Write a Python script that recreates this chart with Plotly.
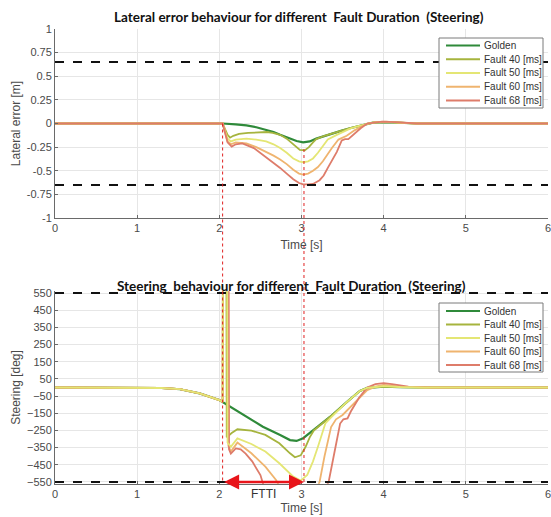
import plotly.graph_objects as go

# ---------------- data ----------------
# Lateral error [m]
t_golden_lat = [0, 2.04, 2.2, 2.33, 2.45, 2.57, 2.66, 2.74, 2.85, 2.94, 3.02, 3.1, 3.18, 3.28, 3.39, 3.49, 3.59, 3.68, 3.75, 3.87, 4.03, 4.2, 4.4, 6.0]
golden_lat = [0, 0, -0.01, -0.02, -0.04, -0.067, -0.09, -0.12, -0.155, -0.185, -0.2, -0.19, -0.16, -0.13, -0.1, -0.075, -0.05, -0.03, -0.015, 0.01, 0.015, 0.008, 0, 0]

t_f40_lat = [0, 2.04, 2.1, 2.13, 2.17, 2.24, 2.35, 2.49, 2.58, 2.65, 2.74, 2.82, 2.9, 2.98, 3.04, 3.09, 3.14, 3.18, 3.28, 3.39, 3.49, 3.59, 3.68, 3.75, 3.87, 4.03, 4.2, 4.4, 6.0]
f40_lat = [0, 0, -0.12, -0.15, -0.13, -0.11, -0.1, -0.09, -0.09, -0.1, -0.12, -0.16, -0.22, -0.28, -0.285, -0.25, -0.2, -0.165, -0.13, -0.1, -0.075, -0.05, -0.03, -0.015, 0.01, 0.015, 0.008, 0, 0]

t_f50_lat = [0, 2.04, 2.1, 2.14, 2.2, 2.33, 2.45, 2.57, 2.66, 2.74, 2.82, 2.9, 2.97, 3.02, 3.08, 3.14, 3.2, 3.24, 3.32, 3.43, 3.52, 3.59, 3.68, 3.75, 3.87, 4.03, 4.2, 4.4, 6.0]
f50_lat = [0, 0, -0.16, -0.19, -0.17, -0.16, -0.17, -0.19, -0.22, -0.26, -0.31, -0.37, -0.4, -0.41, -0.4, -0.37, -0.31, -0.26, -0.17, -0.12, -0.08, -0.055, -0.03, -0.015, 0.01, 0.018, 0.01, 0, 0]

t_f60_lat = [0, 2.04, 2.1, 2.14, 2.2, 2.33, 2.45, 2.57, 2.66, 2.74, 2.82, 2.9, 2.97, 3.02, 3.08, 3.14, 3.2, 3.26, 3.32, 3.37, 3.45, 3.55, 3.65, 3.72, 3.8, 3.9, 4.03, 4.2, 4.4, 6.0]
f60_lat = [0, 0, -0.19, -0.22, -0.2, -0.21, -0.25, -0.3, -0.34, -0.38, -0.43, -0.49, -0.53, -0.54, -0.53, -0.5, -0.46, -0.4, -0.32, -0.26, -0.17, -0.13, -0.07, -0.035, 0, 0.015, 0.02, 0.01, 0, 0]

t_f68_lat = [0, 2.04, 2.1, 2.15, 2.2, 2.28, 2.42, 2.57, 2.66, 2.74, 2.82, 2.9, 2.97, 3.02, 3.08, 3.14, 3.22, 3.27, 3.32, 3.38, 3.43, 3.49, 3.53, 3.57, 3.65, 3.72, 3.8, 3.9, 3.98, 4.15, 4.4, 6.0]
f68_lat = [0, 0, -0.2, -0.245, -0.22, -0.21, -0.26, -0.36, -0.41, -0.47, -0.53, -0.59, -0.63, -0.645, -0.645, -0.64, -0.6, -0.55, -0.47, -0.37, -0.3, -0.18, -0.165, -0.165, -0.1, -0.05, 0, 0.012, 0.02, 0.015, 0, 0]

# Steering [deg]
t_golden_st = [0, 1.0, 1.3, 1.52, 1.76, 2.0, 2.04, 2.13, 2.33, 2.53, 2.74, 2.86, 2.94, 3.02, 3.14, 3.35, 3.55, 3.71, 3.8, 3.9, 4.0, 4.2, 4.5, 6.0]
golden_st = [0, 0, -3, -10, -34, -73, -85, -112, -170, -228, -276, -306, -311, -295, -250, -170, -85, -20, -2, 3, 5, 2, 0, 0]

t_f40_st = [0, 1.0, 1.3, 1.52, 1.76, 2.0, 2.04, 2.045, 2.085, 2.09, 2.15, 2.22, 2.39, 2.56, 2.73, 2.86, 2.92, 2.99, 3.05, 3.1, 3.15, 3.35, 3.55, 3.71, 3.8, 3.9, 4.0, 4.2, 4.5, 6.0]
f40_st = [0, 0, -3, -10, -34, -73, -85, 1000, 1000, -290, -265, -243, -251, -276, -325, -383, -406, -395, -345, -290, -250, -170, -85, -20, -2, 3, 5, 2, 0, 0]

t_f50_st = [0, 1.0, 1.3, 1.52, 1.76, 2.0, 2.04, 2.045, 2.095, 2.1, 2.14, 2.22, 2.39, 2.56, 2.73, 2.9, 2.99, 3.07, 3.14, 3.2, 3.29, 3.37, 3.46, 3.55, 3.71, 3.8, 3.9, 4.0, 4.2, 4.5, 6.0]
f50_st = [0, 0, -3, -10, -34, -73, -85, 1000, 1000, -320, -345, -296, -329, -373, -441, -519, -542, -509, -430, -345, -209, -170, -130, -85, -20, -2, 3, 8, 3, 0, 0]

t_f60_st = [0, 1.0, 1.3, 1.52, 1.76, 2.0, 2.04, 2.045, 2.105, 2.11, 2.14, 2.22, 2.39, 2.56, 2.69, 2.78, 3.15, 3.22, 3.28, 3.36, 3.42, 3.5, 3.6, 3.7, 3.8, 3.9, 4.0, 4.2, 4.5, 6.0]
f60_st = [0, 0, -3, -10, -34, -73, -85, 1000, 1000, -340, -373, -321, -383, -461, -538, -620, -620, -550, -400, -230, -185, -160, -110, -60, -15, 5, 15, 5, 0, 0]

t_f68_st = [0, 1.0, 1.3, 1.52, 1.76, 2.0, 2.04, 2.045, 2.113, 2.118, 2.14, 2.2, 2.26, 2.32, 2.4, 2.5, 2.57, 3.25, 3.33, 3.4, 3.47, 3.51, 3.56, 3.6, 3.7, 3.8, 3.9, 4.0, 4.1, 4.3, 4.6, 6.0]
f68_st = [0, 0, -3, -10, -34, -73, -85, 1000, 1000, -360, -385, -355, -360, -385, -430, -510, -620, -620, -550, -380, -210, -185, -180, -140, -60, 0, 20, 25, 20, 5, 0, 0]

series_names = ["Golden", "Fault 40 [ms]", "Fault 50 [ms]", "Fault 60 [ms]", "Fault 68 [ms]"]
series_colors = ["#2f8a3a", "#a6b43e", "#e4e674", "#efb46f", "#de7c6a"]

lat_limit = [0.65, -0.65]
steer_limit = [550, -550]
fault_start = 2.04
ftti_end = 3.03
dotted_top_start = [0, -0.27]   # lateral error level where the dotted markers begin

lat_ticks = [1, 0.75, 0.5, 0.25, 0, -0.25, -0.5, -0.75, -1]
lat_ticktext = ["1", "0.75", "0.5", "0.25", "0", "-0.25", "-0.5", "-0.75", "-1"]
steer_ticks = [550, 450, 350, 250, 150, 50, -50, -150, -250, -350, -450, -550]
time_ticks = [0, 1, 2, 3, 4, 5, 6]

# ---------------- layout constants ----------------
W, H = 551, 517
xdom = [55 / W, 548 / W]
top_rng = [-1, 1]
top_dom = [1 - 218 / H, 1 - 29 / H]
bot_rng = [-560, 560]
bot_dom = [1 - 483.7 / H, 1 - 291.3 / H]

def to_paper(v, rng, dom):
    return dom[0] + (v - rng[0]) / (rng[1] - rng[0]) * (dom[1] - dom[0])

def px(x):
    return x / W

def py(y):
    return 1 - y / H

fig = go.Figure()

lat_t = [t_golden_lat, t_f40_lat, t_f50_lat, t_f60_lat, t_f68_lat]
lat_v = [golden_lat, f40_lat, f50_lat, f60_lat, f68_lat]
st_t = [t_golden_st, t_f40_st, t_f50_st, t_f60_st, t_f68_st]
st_v = [golden_st, f40_st, f50_st, f60_st, f68_st]

for i in range(5):
    fig.add_trace(go.Scatter(
        x=lat_t[i], y=lat_v[i], mode="lines", name=series_names[i],
        line=dict(color=series_colors[i], width=2.2 if i == 0 else 1.8),
        xaxis="x", yaxis="y", showlegend=False, hoverinfo="skip"))

for i in [0, 1, 3, 4, 2]:
    fig.add_trace(go.Scatter(
        x=st_t[i], y=st_v[i], mode="lines", name=series_names[i],
        line=dict(color=series_colors[i], width=2.2 if i == 0 else 1.8),
        xaxis="x2", yaxis="y2", showlegend=False, hoverinfo="skip"))

tickfont = dict(family="Liberation Sans, Arial, sans-serif", size=11, color="#4a4a4a")
titlefont = dict(family="Liberation Sans, Arial, sans-serif", size=12, color="#4a4a4a")
axis_common = dict(showgrid=True, gridcolor="#e6e6e6", gridwidth=1, zeroline=False,
                   showline=True, linecolor="#6a6a6a", linewidth=1, automargin=False,
                   ticks="inside", ticklen=3, tickcolor="#6a6a6a", tickfont=tickfont)

fig.update_layout(
    width=W, height=H, autosize=False,
    margin=dict(l=0, r=0, t=0, b=0),
    paper_bgcolor="white", plot_bgcolor="white", showlegend=False,
    xaxis=dict(domain=xdom, range=[0, 6], tickvals=time_ticks, anchor="y", ticklabeloverflow="allow",
               title=dict(text="Time [s]", font=titlefont, standoff=7), **axis_common),
    yaxis=dict(domain=top_dom, range=top_rng, tickvals=lat_ticks, ticktext=lat_ticktext, anchor="x",
               title=dict(text="Lateral error [m]", font=titlefont, standoff=3), **axis_common),
    xaxis2=dict(domain=xdom, range=[0, 6], tickvals=time_ticks, anchor="y2", ticklabeloverflow="allow",
                title=dict(text="Time [s]", font=titlefont, standoff=4), **axis_common),
    yaxis2=dict(domain=bot_dom, range=bot_rng, tickvals=steer_ticks, anchor="x2",
                title=dict(text="Steering [deg]", font=titlefont, standoff=3), **axis_common),
)

# dashed limit lines
for v in lat_limit:
    fig.add_shape(type="line", xref="x domain", yref="y", x0=0, x1=1, y0=v, y1=v,
                  line=dict(color="#111", width=2, dash="dash"))
for v in steer_limit:
    fig.add_shape(type="line", xref="x2 domain", yref="y2", x0=0, x1=1, y0=v, y1=v,
                  line=dict(color="#111", width=2, dash="dash"))

# red dotted markers spanning both plots
for xv, ys in zip([fault_start, ftti_end], dotted_top_start):
    fig.add_shape(type="line", xref="x2", yref="paper", x0=xv, x1=xv,
                  y0=to_paper(ys, top_rng, top_dom), y1=to_paper(steer_limit[1], bot_rng, bot_dom),
                  line=dict(color="#e02020", width=1, dash="dot"))

# FTTI arrow
fig.add_annotation(x=ftti_end, y=steer_limit[1], ax=fault_start, ay=steer_limit[1],
                   xref="x2", yref="y2", axref="x2", ayref="y2", text="",
                   showarrow=True, arrowside="end+start", arrowhead=2, arrowsize=1.2,
                   arrowwidth=2.5, arrowcolor="#e8141a")
fig.add_annotation(x=(fault_start + ftti_end) / 2, y=steer_limit[1], xref="x2", yref="y2",
                   yshift=-12, text="FTTI", showarrow=False,
                   font=dict(family="Liberation Sans, Arial, sans-serif", size=12, color="#333"))

# manual legends (compact, MATLAB-like)
legend_font = dict(family="Liberation Sans, Arial, sans-serif", size=10, color="#333")
for box_top, box_bot, first_row in [(38, 108, 45.5), (303, 372, 311)]:
    fig.add_shape(type="rect", xref="paper", yref="paper",
                  x0=px(439), x1=px(543), y0=py(box_bot), y1=py(box_top),
                  line=dict(color="#7a7a7a", width=1), fillcolor="white", layer="above")
    step = (box_bot - box_top - 15) / 4
    for i in range(5):
        yy = first_row + i * step
        fig.add_shape(type="line", xref="paper", yref="paper",
                      x0=px(446), x1=px(480), y0=py(yy), y1=py(yy),
                      line=dict(color=series_colors[i], width=2.2 if i == 0 else 1.8), layer="above")
        fig.add_annotation(x=px(482), y=py(yy), xref="paper", yref="paper", text=series_names[i],
                           showarrow=False, xanchor="left", yanchor="middle", font=legend_font)

# titles
bold = dict(family="Lato, Liberation Sans, sans-serif", size=13.5, color="#111")
fig.add_annotation(x=299 / W, y=1 - 17 / H, xref="paper", yref="paper", showarrow=False,
                   text="<b>Lateral error behaviour for different\u00a0 Fault Duration\u00a0 (Steering)</b>",
                   font=bold, xanchor="center", yanchor="middle")
fig.add_annotation(x=291 / W, y=1 - 286 / H, xref="paper", yref="paper", showarrow=False,
                   text="<b>Steering\u00a0 behaviour for different\u00a0 Fault Duration\u00a0 (Steering)</b>",
                   font=bold, xanchor="center", yanchor="middle")

fig.write_html("out.html", config={"displayModeBar": False, "staticPlot": True},
               post_script="document.body.style.margin='0';document.body.style.overflow='hidden';")
